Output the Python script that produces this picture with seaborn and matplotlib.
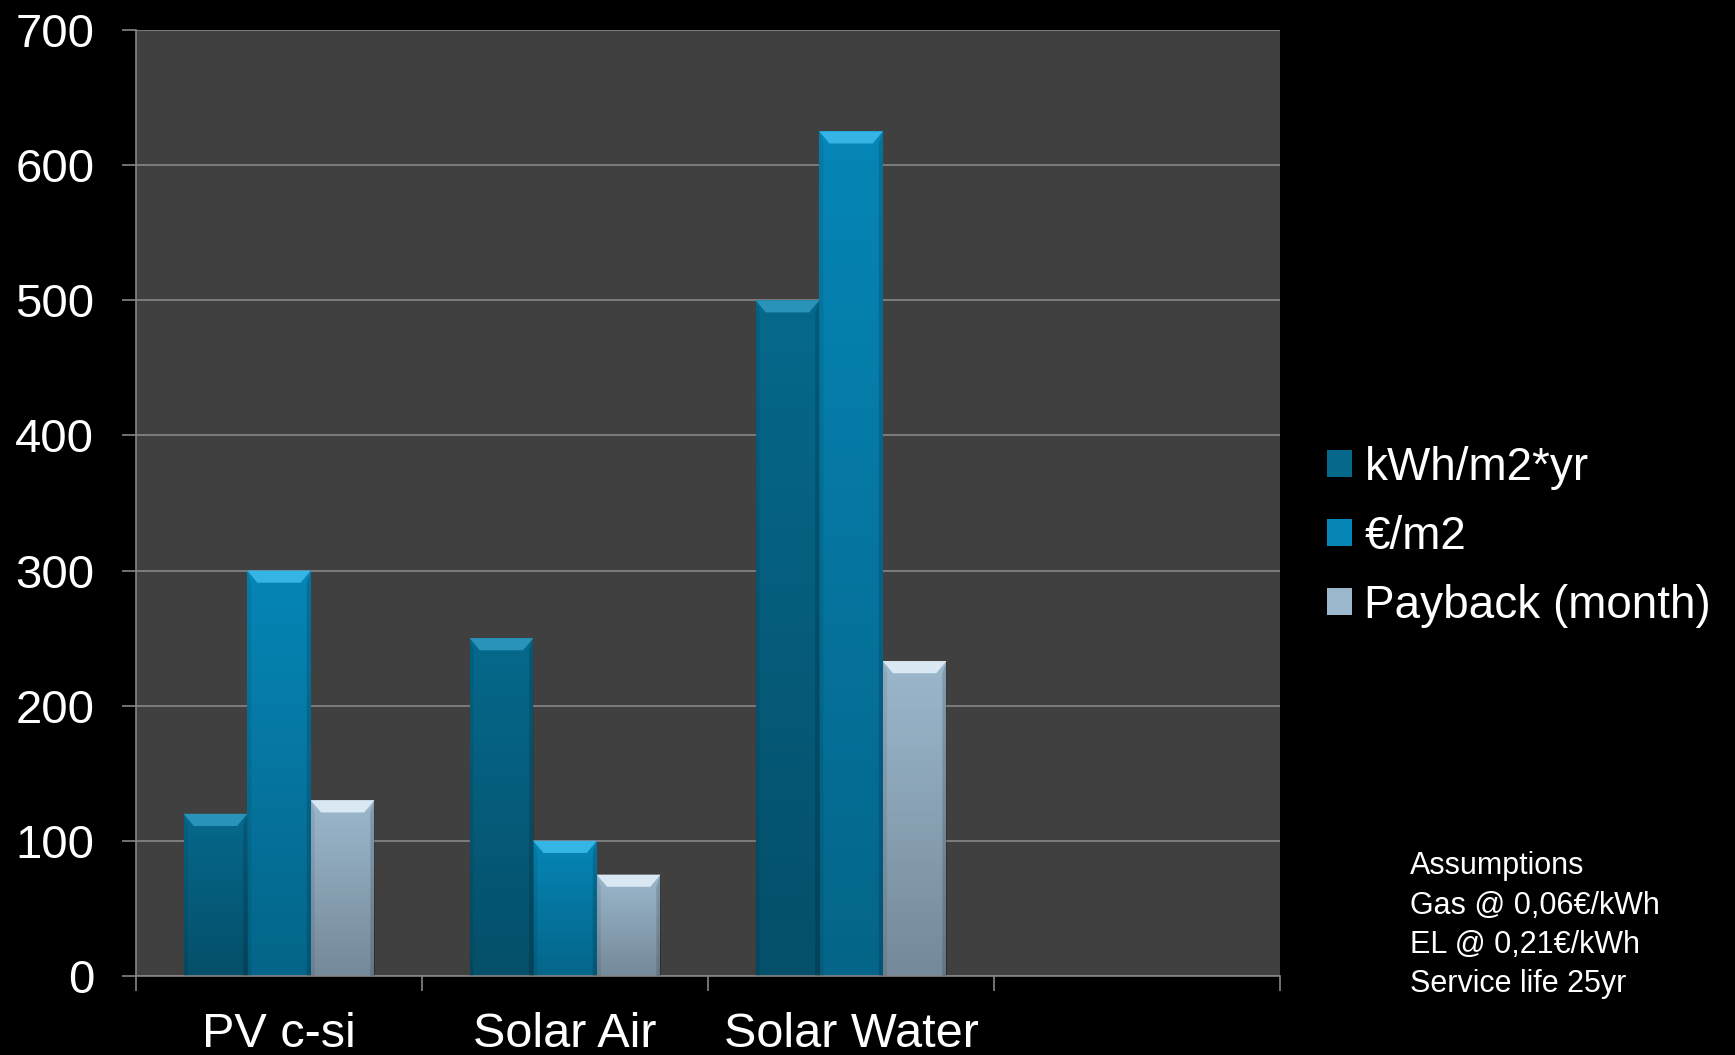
import numpy as np
import pandas as pd
import matplotlib
matplotlib.use("Agg")
import matplotlib.pyplot as plt
from matplotlib.patches import Polygon
from matplotlib.ticker import FixedLocator
import seaborn as sns

# --- data ---
categories = ["PV c-si", "Solar Air", "Solar Water"]
series = ["kWh/m2*yr", "€/m2", "Payback (month)"]
kwh_m2_yr = [120, 250, 500]
eur_m2 = [300, 100, 625]
payback_month = [130, 75, 233]
yticks = [0, 100, 200, 300, 400, 500, 600, 700]
notes = ["Assumptions", "Gas @ 0,06€/kWh", "EL @ 0,21€/kWh", "Service life 25yr"]

colors = ["#06698c", "#0686b6", "#9bb7cc"]
bevel_colors = ["#2a93ba", "#35b4e6", "#d9e8f2"]

df = pd.DataFrame({
    "category": categories * 3,
    "series": [s for s in series for _ in categories],
    "value": kwh_m2_yr + eur_m2 + payback_month,
})

sns.set_theme(style="dark")
plt.rcParams["font.family"] = ["Liberation Sans", "DejaVu Sans"]

fig = plt.figure(figsize=(17.35, 10.55), dpi=100, facecolor="black")
ax = fig.add_axes([0.0784, 0.0749, 0.6594, 0.8967])
ax.set_facecolor("#404040")
ax.set_axisbelow(True)

sns.barplot(data=df, x="category", y="value", hue="series", order=categories,
            hue_order=series, palette=colors, width=0.667, saturation=1,
            linewidth=0, ax=ax)

ax.set_xlabel("")
ax.set_ylabel("")
ax.yaxis.grid(True, color="#868686", lw=1.2)
ax.xaxis.grid(False)

grey = "#868686"

# bevel + shading on each bar
shade = np.zeros((100, 1, 4))
shade[:, 0, 3] = np.linspace(0.0, 0.25, 100)  # darker toward bottom
for i, cont in enumerate(ax.containers):
    for bar in cont:
        x0, w, h = bar.get_x(), bar.get_width(), bar.get_height()
        top = bar.get_y() + h
        dx = w * 0.16
        dy = 9
        im = ax.imshow(shade, extent=(x0, x0 + w, 0, top), aspect="auto",
                       origin="upper", zorder=2.5, interpolation="bilinear")
        im.set_clip_path(bar)
        ax.add_patch(Polygon([(x0 + w, top), (x0 + w - dx * 0.4, top - dy),
                              (x0 + w - dx * 0.4, 0), (x0 + w, 0)], closed=True,
                             facecolor="black", alpha=0.15, edgecolor="none", zorder=3))
        ax.add_patch(Polygon([(x0, top), (x0 + dx * 0.4, top - dy),
                              (x0 + dx * 0.4, 0), (x0, 0)], closed=True,
                             facecolor="black", alpha=0.08, edgecolor="none", zorder=3))
        ax.add_patch(Polygon([(x0, top), (x0 + w, top), (x0 + w - dx, top - dy),
                              (x0 + dx, top - dy)], closed=True,
                             facecolor=bevel_colors[i], edgecolor="none", zorder=3.5))

ax.set_xlim(-0.5, 3.5)
ax.set_ylim(0, 700)
ax.set_yticks(yticks)
ax.set_xticks(range(len(categories)))
ax.set_xticklabels(categories)
ax.xaxis.set_minor_locator(FixedLocator(np.arange(-0.5, 4.0, 1.0)))

ax.tick_params(axis="y", which="major", length=10, width=1.2, color=grey,
               direction="out", pad=20, labelsize=34, labelcolor="white", left=True)
ax.tick_params(axis="x", which="major", length=0, pad=26, labelsize=35, labelcolor="white")
ax.tick_params(axis="x", which="minor", length=11, width=1.2, color=grey,
               direction="out", bottom=True)
for side in ["top", "right"]:
    ax.spines[side].set_visible(False)
for side in ["left", "bottom"]:
    ax.spines[side].set_visible(True)
    ax.spines[side].set_color(grey)
    ax.spines[side].set_linewidth(1.2)

handles, labels = ax.get_legend_handles_labels()
if ax.get_legend() is not None:
    ax.get_legend().remove()
fig.legend(handles, labels, loc="center left", bbox_to_anchor=(0.765, 0.491),
           frameon=False, fontsize=33, handlelength=0.53, handleheight=0.53,
           handletextpad=0.28, labelspacing=0.55, borderpad=0, borderaxespad=0,
           labelcolor="white")

fig.text(0.8127, 0.193, "\n".join(notes), color="white", fontsize=22,
         ha="left", va="top", linespacing=1.4)

fig.savefig("out.png", dpi=100, facecolor="black")
